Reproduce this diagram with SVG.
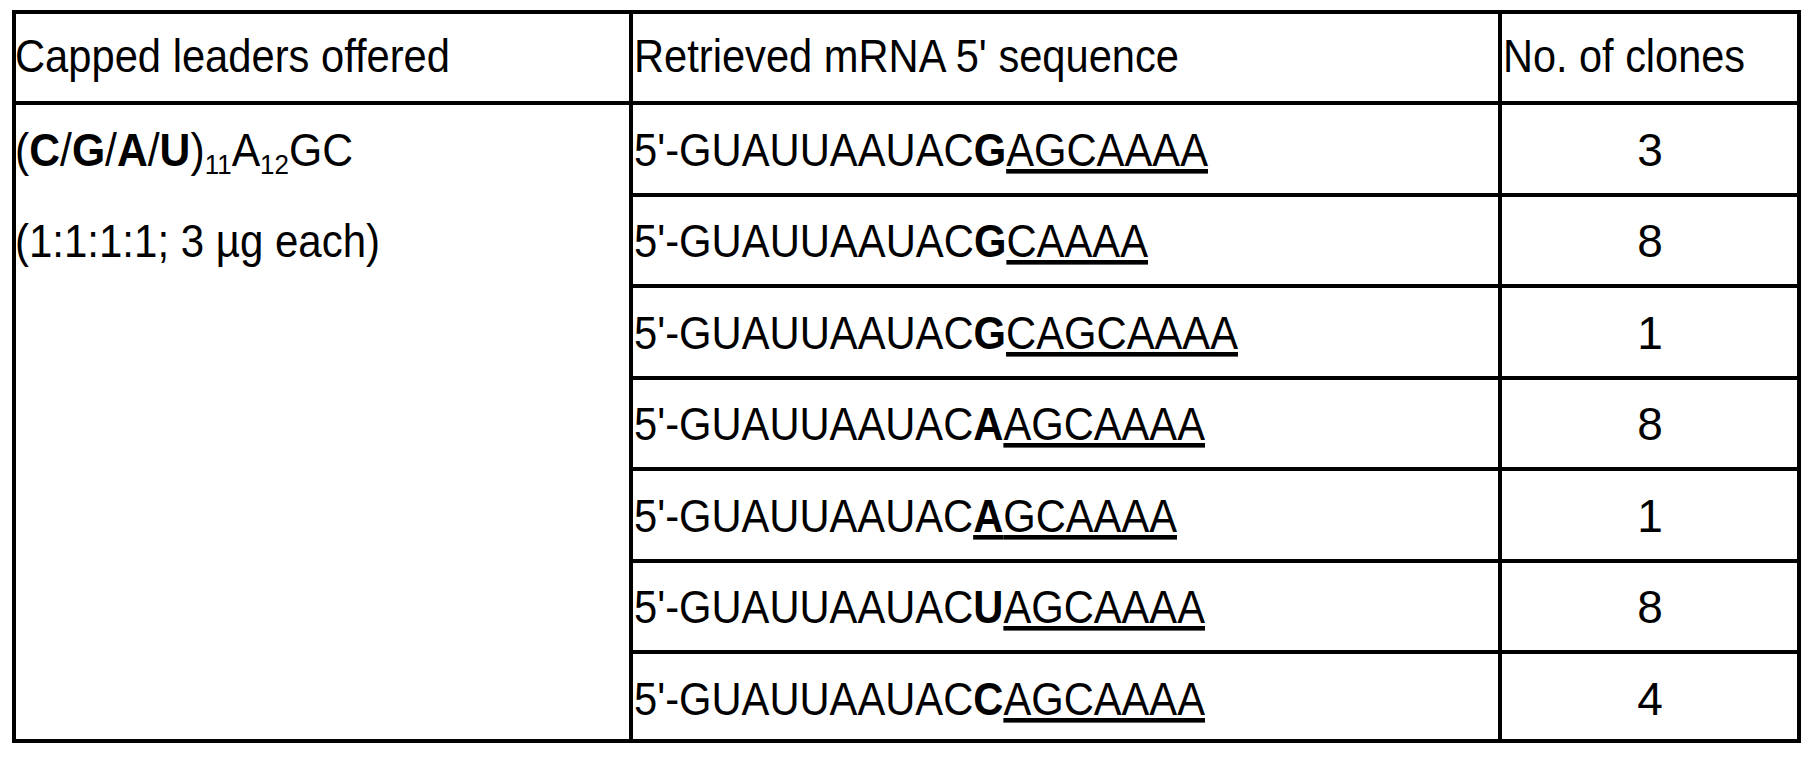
<svg xmlns="http://www.w3.org/2000/svg" width="1813" height="759" viewBox="0 0 1813 759">
<style>
text{font-family:"Liberation Sans",Arial,sans-serif;font-size:46px;fill:#000}
.b{font-weight:bold}
.u{text-decoration:underline}
.s{font-size:28px}
.n{text-anchor:middle}
line{stroke:#000;stroke-width:4}
</style>
<rect x="0" y="0" width="1813" height="759" fill="#fff"/>
<g id="grid">
<rect x="14" y="12" width="1785" height="729" fill="none" stroke="#000" stroke-width="4"/>
<line x1="14" y1="103" x2="1799" y2="103"/>
<line x1="631" y1="12" x2="631" y2="741"/>
<line x1="1500" y1="12" x2="1500" y2="741"/>
<line x1="631" y1="195" x2="1799" y2="195"/>
<line x1="631" y1="286" x2="1799" y2="286"/>
<line x1="631" y1="378" x2="1799" y2="378"/>
<line x1="631" y1="469" x2="1799" y2="469"/>
<line x1="631" y1="561" x2="1799" y2="561"/>
<line x1="631" y1="652" x2="1799" y2="652"/>
</g>
<g id="header">
<text x="15" y="72" textLength="435" lengthAdjust="spacingAndGlyphs">Capped leaders offered</text>
<text x="634" y="72" textLength="545" lengthAdjust="spacingAndGlyphs">Retrieved mRNA 5' sequence</text>
<text x="1503" y="72" textLength="242" lengthAdjust="spacingAndGlyphs">No. of clones</text>
</g>
<g id="leaders">
<text x="15" y="166" textLength="338" lengthAdjust="spacingAndGlyphs">(<tspan class="b">C</tspan>/<tspan class="b">G</tspan>/<tspan class="b">A</tspan>/<tspan class="b">U</tspan>)<tspan class="s" dy="8">11</tspan><tspan dy="-8">A</tspan><tspan class="s" dy="8">12</tspan><tspan dy="-8">GC</tspan></text>
<text x="15" y="257" textLength="365" lengthAdjust="spacingAndGlyphs">(1:1:1:1; 3 µg each)</text>
</g>
<g id="sequences">
<text x="634" y="166" textLength="574" lengthAdjust="spacingAndGlyphs">5'-GUAUUAAUAC<tspan class="b">G</tspan><tspan class="u">AGCAAAA</tspan></text>
<text x="634" y="257" textLength="514" lengthAdjust="spacingAndGlyphs">5'-GUAUUAAUAC<tspan class="b">G</tspan><tspan class="u">CAAAA</tspan></text>
<text x="634" y="349" textLength="604" lengthAdjust="spacingAndGlyphs">5'-GUAUUAAUAC<tspan class="b">G</tspan><tspan class="u">CAGCAAAA</tspan></text>
<text x="634" y="440" textLength="571" lengthAdjust="spacingAndGlyphs">5'-GUAUUAAUAC<tspan class="b">A</tspan><tspan class="u">AGCAAAA</tspan></text>
<text x="634" y="532" textLength="543" lengthAdjust="spacingAndGlyphs">5'-GUAUUAAUAC<tspan class="b u">A</tspan><tspan class="u">GCAAAA</tspan></text>
<text x="634" y="623" textLength="571" lengthAdjust="spacingAndGlyphs">5'-GUAUUAAUAC<tspan class="b">U</tspan><tspan class="u">AGCAAAA</tspan></text>
<text x="634" y="715" textLength="571" lengthAdjust="spacingAndGlyphs">5'-GUAUUAAUAC<tspan class="b">C</tspan><tspan class="u">AGCAAAA</tspan></text>
</g>
<g id="clones">
<text class="n" x="1650" y="166">3</text>
<text class="n" x="1650" y="257">8</text>
<text class="n" x="1650" y="349">1</text>
<text class="n" x="1650" y="440">8</text>
<text class="n" x="1650" y="532">1</text>
<text class="n" x="1650" y="623">8</text>
<text class="n" x="1650" y="715">4</text>
</g>
</svg>
